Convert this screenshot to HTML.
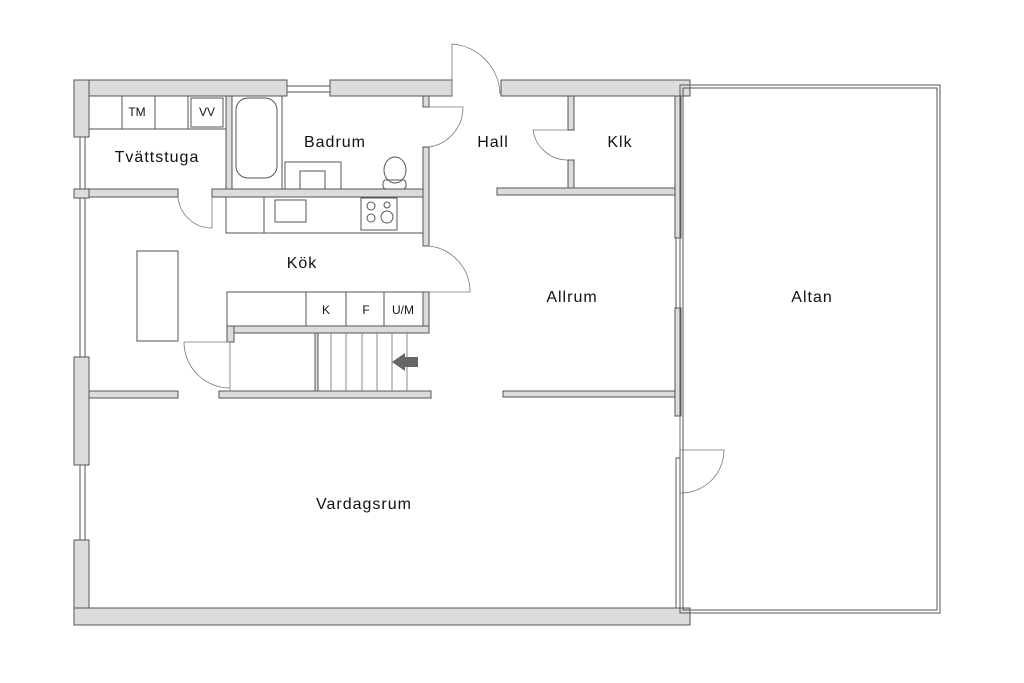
<!DOCTYPE html>
<html><head><meta charset="utf-8"><style>
html,body{margin:0;padding:0;background:#fff;}
svg{display:block;}
text{font-family:"Liberation Sans",sans-serif;fill:#111;}
</style></head><body>
<svg width="1024" height="683" viewBox="0 0 1024 683" xmlns="http://www.w3.org/2000/svg">
<g fill="#dcdcdc" stroke="#555" stroke-width="1">
<rect x="74" y="80" width="213" height="16"/>
<rect x="330" y="80" width="122" height="16"/>
<rect x="501" y="80" width="189" height="16"/>
<rect x="74" y="80" width="15" height="57"/>
<rect x="74" y="189" width="15" height="9"/>
<rect x="74" y="357" width="15" height="108"/>
<rect x="74" y="540" width="15" height="85"/>
<rect x="74" y="608" width="616" height="17"/>
<rect x="675" y="96" width="6" height="142"/>
<rect x="675" y="308" width="6" height="108"/>
<rect x="226" y="96" width="6" height="93"/>
<rect x="89" y="189" width="89" height="8"/>
<rect x="212" y="189" width="217" height="8"/>
<rect x="423" y="96" width="6" height="11"/>
<rect x="423" y="147" width="6" height="99"/>
<rect x="423" y="292" width="6" height="35"/>
<rect x="227" y="326" width="202" height="7"/>
<rect x="227" y="326" width="7" height="16"/>
<rect x="315" y="333" width="3" height="59"/>
<rect x="89" y="391" width="89" height="7"/>
<rect x="219" y="391" width="212" height="7"/>
<rect x="503" y="391" width="172" height="6"/>
<rect x="568" y="96" width="6" height="34"/>
<rect x="568" y="160" width="6" height="29"/>
<rect x="497" y="188" width="178" height="7"/>
</g>
<g fill="none" stroke="#555" stroke-width="1">
<rect x="287" y="86" width="43" height="6"/>
<rect x="80" y="137" width="5" height="52"/>
<rect x="80" y="198" width="5" height="159"/>
<rect x="80" y="465" width="5" height="75"/>
<rect x="676" y="238" width="4" height="70"/>
<rect x="676" y="458" width="4" height="150"/>
<rect x="680" y="85" width="260" height="528"/>
<rect x="683" y="88" width="254" height="522"/>
<rect x="89" y="96" width="137" height="33"/>
<line x1="122" y1="96" x2="122" y2="129"/><line x1="155" y1="96" x2="155" y2="129"/><line x1="188" y1="96" x2="188" y2="129"/>
<rect x="191" y="98" width="32" height="29"/>
<rect x="236" y="98" width="41" height="80" rx="12"/>
<rect x="232" y="96" width="50" height="93"/>
<rect x="285" y="162" width="56" height="27"/>
<rect x="300" y="171" width="25" height="18"/>
<ellipse cx="395" cy="170" rx="11" ry="13"/>
<rect x="383" y="180" width="23" height="9" rx="3"/>
<rect x="226" y="197" width="197" height="36"/>
<line x1="264" y1="197" x2="264" y2="233"/>
<rect x="275" y="200" width="31" height="22"/>
<rect x="361" y="198" width="36" height="32"/>
<circle cx="371" cy="206" r="4"/><circle cx="387" cy="205" r="3"/><circle cx="371" cy="218" r="4"/><circle cx="387" cy="217" r="6"/>
<rect x="137" y="251" width="41" height="90"/>
<rect x="227" y="292" width="196" height="34"/>
<line x1="306" y1="292" x2="306" y2="326"/><line x1="346" y1="292" x2="346" y2="326"/><line x1="384" y1="292" x2="384" y2="326"/>
<g stroke="#888"><line x1="331" y1="333" x2="331" y2="391"/><line x1="346" y1="333" x2="346" y2="391"/><line x1="362" y1="333" x2="362" y2="391"/><line x1="377" y1="333" x2="377" y2="391"/><line x1="392" y1="333" x2="392" y2="391"/><line x1="407" y1="333" x2="407" y2="391"/></g>
<g stroke="#777" stroke-width="0.8">
<path d="M452 96 L452 44 A52 52 0 0 1 500 94"/>
<path d="M429 107 L463 107 A40 40 0 0 1 429 147"/>
<path d="M429 292 L470 292 A46 46 0 0 0 429 246"/>
<path d="M212 197 L212 228 A34 34 0 0 1 178 197"/>
<path d="M568 130 L533 130 A35 35 0 0 0 568 160"/>
<path d="M184 342 L230 342 L230 390 M184 342 A46 46 0 0 0 230 388"/>
<path d="M680 416 L680 450 L724 450 A43 43 0 0 1 680 493"/>
</g>
</g>
<polygon points="392,362 405,353 405,357 418,357 418,367 405,367 405,371" fill="#666"/>
<g font-size="16" letter-spacing="1">
<text x="157" y="162" text-anchor="middle">Tvättstuga</text>
<text x="335" y="147" text-anchor="middle">Badrum</text>
<text x="493" y="147" text-anchor="middle">Hall</text>
<text x="620" y="147" text-anchor="middle">Klk</text>
<text x="302" y="268" text-anchor="middle">Kök</text>
<text x="572" y="302" text-anchor="middle">Allrum</text>
<text x="812" y="302" text-anchor="middle">Altan</text>
<text x="364" y="509" text-anchor="middle">Vardagsrum</text>
</g>
<g font-size="12">
<text x="137" y="116" text-anchor="middle">TM</text>
<text x="207" y="116" text-anchor="middle">VV</text>
<text x="326" y="314" text-anchor="middle">K</text>
<text x="366" y="314" text-anchor="middle">F</text>
<text x="403" y="314" text-anchor="middle">U/M</text>
</g>
</svg>
</body></html>
